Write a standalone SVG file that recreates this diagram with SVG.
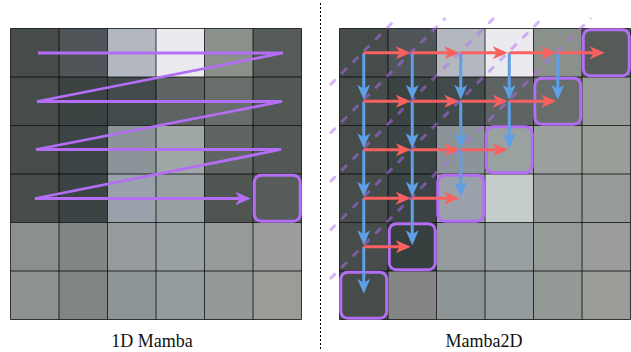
<svg xmlns="http://www.w3.org/2000/svg" width="631" height="352" viewBox="0 0 631 352">
<defs>
<style>
.grid{fill:none;stroke:#000;stroke-width:1;stroke-opacity:0.75}
.hl{fill:none;stroke:#b46ef5;stroke-width:3}
.red{stroke:#f8615f;stroke-width:3;fill:none}
.blue{stroke:#5e9fe6;stroke-width:3;fill:none}
.diag{stroke:#b46ef5;stroke-opacity:0.5;stroke-width:3;stroke-dasharray:8 8;fill:none}
.lbl{font-family:"Liberation Serif","Times New Roman",serif;font-size:18px;fill:#111;text-anchor:middle}
</style>
<marker id="ar" viewBox="-1 -8 17 16" markerWidth="17" markerHeight="16" refX="11" refY="0" orient="auto" markerUnits="userSpaceOnUse"><path d="M0,-6.5 L15,0 L0,6.5 L4,0 Z" fill="#f8615f"/></marker>
<marker id="ab" viewBox="-1 -8 17 16" markerWidth="17" markerHeight="16" refX="11" refY="0" orient="auto" markerUnits="userSpaceOnUse"><path d="M0,-6.5 L15,0 L0,6.5 L4,0 Z" fill="#5e9fe6"/></marker>
<marker id="ap" viewBox="-1 -8 17 16" markerWidth="17" markerHeight="16" refX="11" refY="0" orient="auto" markerUnits="userSpaceOnUse"><path d="M0,-6.7 L15,0 L0,6.7 L4,0 Z" fill="#b46ef5"/></marker>
</defs>
<rect width="631" height="352" fill="#fff"/>

<g id="left-panel">
<g id="left-grid" transform="translate(10.5,28.5)">
<rect x="0" y="0" width="48.5" height="48.5" fill="#464c49"/><rect x="48.5" y="0" width="48.5" height="48.5" fill="#4f5558"/><rect x="97" y="0" width="48.5" height="48.5" fill="#b3b7bf"/><rect x="145.5" y="0" width="48.5" height="48.5" fill="#eaeaef"/><rect x="194" y="0" width="48.5" height="48.5" fill="#8a918a"/><rect x="242.5" y="0" width="48.5" height="48.5" fill="#555b57"/>
<rect x="0" y="48.5" width="48.5" height="48.5" fill="#464c49"/><rect x="48.5" y="48.5" width="48.5" height="48.5" fill="#3b4343"/><rect x="97" y="48.5" width="48.5" height="48.5" fill="#424b4b"/><rect x="145.5" y="48.5" width="48.5" height="48.5" fill="#5d6463"/><rect x="194" y="48.5" width="48.5" height="48.5" fill="#686e6b"/><rect x="242.5" y="48.5" width="48.5" height="48.5" fill="#525855"/>
<rect x="0" y="97" width="48.5" height="48.5" fill="#464c49"/><rect x="48.5" y="97" width="48.5" height="48.5" fill="#3c4546"/><rect x="97" y="97" width="48.5" height="48.5" fill="#8b9498"/><rect x="145.5" y="97" width="48.5" height="48.5" fill="#a0a8a7"/><rect x="194" y="97" width="48.5" height="48.5" fill="#5f6662"/><rect x="242.5" y="97" width="48.5" height="48.5" fill="#525855"/>
<rect x="0" y="145.5" width="48.5" height="48.5" fill="#454c49"/><rect x="48.5" y="145.5" width="48.5" height="48.5" fill="#3b4344"/><rect x="97" y="145.5" width="48.5" height="48.5" fill="#99a1aa"/><rect x="145.5" y="145.5" width="48.5" height="48.5" fill="#97a1a2"/><rect x="194" y="145.5" width="48.5" height="48.5" fill="#4f5652"/><rect x="242.5" y="145.5" width="48.5" height="48.5" fill="#565c5a"/>
<rect x="0" y="194" width="48.5" height="48.5" fill="#8b908d"/><rect x="48.5" y="194" width="48.5" height="48.5" fill="#818684"/><rect x="97" y="194" width="48.5" height="48.5" fill="#959a9e"/><rect x="145.5" y="194" width="48.5" height="48.5" fill="#99a0a1"/><rect x="194" y="194" width="48.5" height="48.5" fill="#959b97"/><rect x="242.5" y="194" width="48.5" height="48.5" fill="#9a9d99"/>
<rect x="0" y="242.5" width="48.5" height="48.5" fill="#8e9290"/><rect x="48.5" y="242.5" width="48.5" height="48.5" fill="#818584"/><rect x="97" y="242.5" width="48.5" height="48.5" fill="#8e9597"/><rect x="145.5" y="242.5" width="48.5" height="48.5" fill="#939c9c"/><rect x="194" y="242.5" width="48.5" height="48.5" fill="#939a96"/><rect x="242.5" y="242.5" width="48.5" height="48.5" fill="#9a9c97"/>
<path class="grid" d="M0 0V291M48.5 0V291M97 0V291M145.5 0V291M194 0V291M242.5 0V291M291 0V291M0 0H291M0 48.5H291M0 97H291M0 145.5H291M0 194H291M0 242.5H291M0 291H291"/>
</g>
<g id="left-target"><rect class="hl" x="254.25" y="175.25" width="46" height="46" rx="7"/></g>
<text class="lbl" x="152" y="347">1D Mamba</text>
</g>

<g id="connectors-left">
<polyline fill="none" stroke="#b46ef5" stroke-width="2.8" points="38,53 283,53 37,101.5 282,101.5 36,149.5 281,149.5 35,198.5 246.5,198.5" marker-end="url(#ap)"/>
</g>

<line id="divider" x1="320.5" y1="3" x2="320.5" y2="350" stroke="#000" stroke-width="1" stroke-dasharray="2 2"/>

<g id="right-panel">
<g id="right-grid" transform="translate(339.5,28.5)">
<rect x="0" y="0" width="48.5" height="48.5" fill="#464c49"/><rect x="48.5" y="0" width="48.5" height="48.5" fill="#4f5558"/><rect x="97" y="0" width="48.5" height="48.5" fill="#b3b7bf"/><rect x="145.5" y="0" width="48.5" height="48.5" fill="#eaeaef"/><rect x="194" y="0" width="48.5" height="48.5" fill="#8a918a"/><rect x="242.5" y="0" width="48.5" height="48.5" fill="#555b57"/>
<rect x="0" y="48.5" width="48.5" height="48.5" fill="#464c49"/><rect x="48.5" y="48.5" width="48.5" height="48.5" fill="#3b4343"/><rect x="97" y="48.5" width="48.5" height="48.5" fill="#424b4b"/><rect x="145.5" y="48.5" width="48.5" height="48.5" fill="#5d6463"/><rect x="194" y="48.5" width="48.5" height="48.5" fill="#686e6b"/><rect x="242.5" y="48.5" width="48.5" height="48.5" fill="#979b97"/>
<rect x="0" y="97" width="48.5" height="48.5" fill="#464c49"/><rect x="48.5" y="97" width="48.5" height="48.5" fill="#3c4546"/><rect x="97" y="97" width="48.5" height="48.5" fill="#8b9498"/><rect x="145.5" y="97" width="48.5" height="48.5" fill="#9aa2a1"/><rect x="194" y="97" width="48.5" height="48.5" fill="#9aa09c"/><rect x="242.5" y="97" width="48.5" height="48.5" fill="#989d98"/>
<rect x="0" y="145.5" width="48.5" height="48.5" fill="#454c49"/><rect x="48.5" y="145.5" width="48.5" height="48.5" fill="#3b4344"/><rect x="97" y="145.5" width="48.5" height="48.5" fill="#9aa1aa"/><rect x="145.5" y="145.5" width="48.5" height="48.5" fill="#c5cccc"/><rect x="194" y="145.5" width="48.5" height="48.5" fill="#979c98"/><rect x="242.5" y="145.5" width="48.5" height="48.5" fill="#979b97"/>
<rect x="0" y="194" width="48.5" height="48.5" fill="#454c49"/><rect x="48.5" y="194" width="48.5" height="48.5" fill="#383f3f"/><rect x="97" y="194" width="48.5" height="48.5" fill="#959a9e"/><rect x="145.5" y="194" width="48.5" height="48.5" fill="#99a0a1"/><rect x="194" y="194" width="48.5" height="48.5" fill="#959b97"/><rect x="242.5" y="194" width="48.5" height="48.5" fill="#999c98"/>
<rect x="0" y="242.5" width="48.5" height="48.5" fill="#464c49"/><rect x="48.5" y="242.5" width="48.5" height="48.5" fill="#838685"/><rect x="97" y="242.5" width="48.5" height="48.5" fill="#8e9597"/><rect x="145.5" y="242.5" width="48.5" height="48.5" fill="#939c9c"/><rect x="194" y="242.5" width="48.5" height="48.5" fill="#939a96"/><rect x="242.5" y="242.5" width="48.5" height="48.5" fill="#9a9c97"/>
<path class="grid" d="M0 0V291M48.5 0V291M97 0V291M145.5 0V291M194 0V291M242.5 0V291M291 0V291M0 0H291M0 48.5H291M0 97H291M0 145.5H291M0 194H291M0 242.5H291M0 291H291"/>
</g>
<g id="diagonals">
<line class="diag" x1="330" y1="85" x2="397" y2="18"/>
<line class="diag" x1="330" y1="133.5" x2="445.5" y2="18"/>
<line class="diag" x1="330" y1="182" x2="494" y2="18"/>
<line class="diag" x1="330" y1="230.5" x2="542.5" y2="18"/>
<line class="diag" x1="330" y1="279" x2="591" y2="18"/>
</g>
<g id="box-r0c5"><rect class="hl" x="583.25" y="29.75" width="46" height="46" rx="7"/></g>
<g id="box-r1c4"><rect class="hl" x="534.75" y="78.25" width="46" height="46" rx="7"/></g>
<g id="box-r2c3"><rect class="hl" x="486.25" y="126.75" width="46" height="46" rx="7"/></g>
<g id="box-r3c2"><rect class="hl" x="437.75" y="175.25" width="46" height="46" rx="7"/></g>
<g id="box-r4c1"><rect class="hl" x="389.25" y="223.75" width="46" height="46" rx="7"/></g>
<g id="box-r5c0"><rect class="hl" x="340.75" y="272.25" width="46" height="46" rx="7"/></g>
<text class="lbl" x="484" y="347">Mamba2D</text>
</g>

<g id="connectors-right">
<g id="vertical" class="blue">
<line x1="363.75" y1="52.75" x2="363.75" y2="95.75" marker-end="url(#ab)"/>
<line x1="363.75" y1="101.25" x2="363.75" y2="144.25" marker-end="url(#ab)"/>
<line x1="363.75" y1="149.75" x2="363.75" y2="192.75" marker-end="url(#ab)"/>
<line x1="363.75" y1="198.25" x2="363.75" y2="241.25" marker-end="url(#ab)"/>
<line x1="363.75" y1="246.75" x2="363.75" y2="289.75" marker-end="url(#ab)"/>
<line x1="412.25" y1="52.75" x2="412.25" y2="95.75" marker-end="url(#ab)"/>
<line x1="412.25" y1="101.25" x2="412.25" y2="144.25" marker-end="url(#ab)"/>
<line x1="412.25" y1="149.75" x2="412.25" y2="192.75" marker-end="url(#ab)"/>
<line x1="412.25" y1="198.25" x2="412.25" y2="241.25" marker-end="url(#ab)"/>
<line x1="460.75" y1="52.75" x2="460.75" y2="95.75" marker-end="url(#ab)"/>
<line x1="460.75" y1="101.25" x2="460.75" y2="144.25" marker-end="url(#ab)"/>
<line x1="460.75" y1="149.75" x2="460.75" y2="192.75" marker-end="url(#ab)"/>
<line x1="509.25" y1="52.75" x2="509.25" y2="95.75" marker-end="url(#ab)"/>
<line x1="509.25" y1="101.25" x2="509.25" y2="144.25" marker-end="url(#ab)"/>
<line x1="557.75" y1="52.75" x2="557.75" y2="95.75" marker-end="url(#ab)"/>
</g>
<g id="horizontal" class="red">
<line x1="363.75" y1="52.75" x2="406.75" y2="52.75" marker-end="url(#ar)"/>
<line x1="412.25" y1="52.75" x2="455.25" y2="52.75" marker-end="url(#ar)"/>
<line x1="460.75" y1="52.75" x2="503.75" y2="52.75" marker-end="url(#ar)"/>
<line x1="509.25" y1="52.75" x2="552.25" y2="52.75" marker-end="url(#ar)"/>
<line x1="557.75" y1="52.75" x2="600.75" y2="52.75" marker-end="url(#ar)"/>
<line x1="363.75" y1="101.25" x2="406.75" y2="101.25" marker-end="url(#ar)"/>
<line x1="412.25" y1="101.25" x2="455.25" y2="101.25" marker-end="url(#ar)"/>
<line x1="460.75" y1="101.25" x2="503.75" y2="101.25" marker-end="url(#ar)"/>
<line x1="509.25" y1="101.25" x2="552.25" y2="101.25" marker-end="url(#ar)"/>
<line x1="363.75" y1="149.75" x2="406.75" y2="149.75" marker-end="url(#ar)"/>
<line x1="412.25" y1="149.75" x2="455.25" y2="149.75" marker-end="url(#ar)"/>
<line x1="460.75" y1="149.75" x2="503.75" y2="149.75" marker-end="url(#ar)"/>
<line x1="363.75" y1="198.25" x2="406.75" y2="198.25" marker-end="url(#ar)"/>
<line x1="412.25" y1="198.25" x2="455.25" y2="198.25" marker-end="url(#ar)"/>
<line x1="363.75" y1="246.75" x2="406.75" y2="246.75" marker-end="url(#ar)"/>
</g>
</g>
</svg>
